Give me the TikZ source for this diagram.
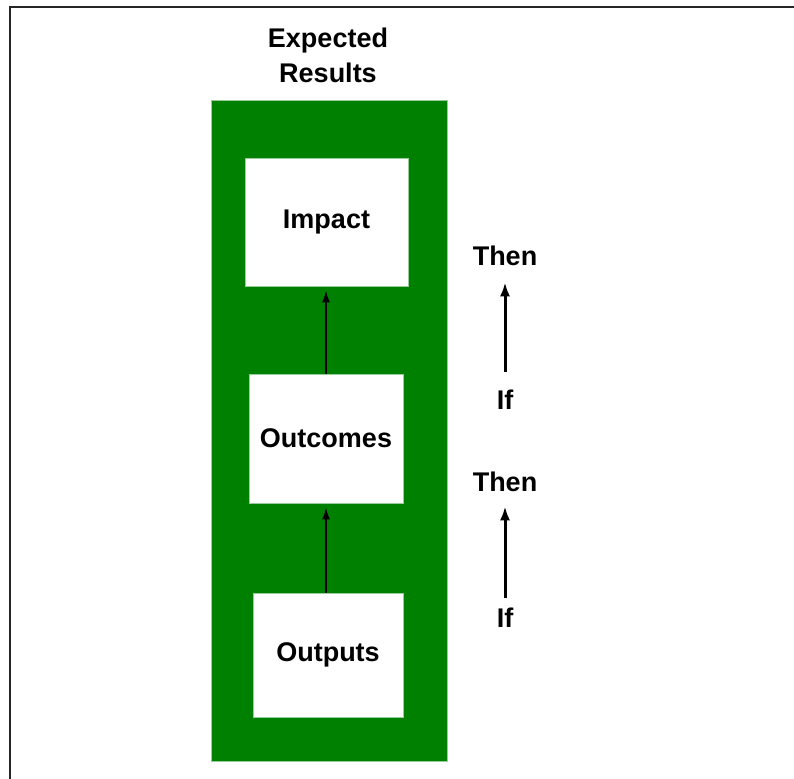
\documentclass[tikz,border=0pt]{standalone}
\usepackage{fontspec}
\usetikzlibrary{arrows.meta}
\setmainfont{Liberation Sans}
\definecolor{resultgreen}{RGB}{0,128,0}

\begin{document}
\begin{tikzpicture}[x=0.5pt,y=-0.5pt,
		every node/.style={font=\fontsize{13.5}{17.5}\selectfont\bfseries, inner sep=0pt},
		stagebox/.style={fill=white, draw=white!60!resultgreen, line width=0.4pt},
		linkarrow/.style={-{Latex[length=6pt,width=4pt]}, line width=1pt, black},
		ifarrow/.style={-{Latex[length=7pt,width=5pt]}, line width=1.5pt, black}]
		\useasboundingbox (0,0) rectangle (794,779);
		\draw [line width=1pt, black!85] (10,779) -- (10,7) -- (794,7);
		\node [align=center] (title) at (328,55) {Expected\\Results};
		\node [fill=resultgreen, draw=white!60!resultgreen, line width=0.4pt, minimum width=118pt, minimum height=330.5pt] (results) at (329,430.5) {};
		\node [stagebox, minimum width=81.5pt, minimum height=64pt] (impact) at (326.5,222) {Impact};
		\node [stagebox, minimum width=77pt, minimum height=64.5pt] (outcomes) at (326,438.5) {Outcomes};
		\node [stagebox, minimum width=75pt, minimum height=62pt] (outputs) at (328,655) {Outputs};
		\draw [linkarrow, shorten >=2pt] (outcomes.north) -- (outcomes.north |- impact.south);
		\draw [linkarrow, shorten >=2pt] (outcomes.south |- outputs.north) -- (outcomes.south);
		\node (then1) at (505,256) {Then};
		\node (if1) at (505,400) {If};
		\node (then2) at (505,482) {Then};
		\node (if2) at (505,618) {If};
		\draw [ifarrow, shorten <=9pt, shorten >=8pt] (if1.north) -- (then1.south);
		\draw [ifarrow, shorten <=5pt, shorten >=7pt] (if2.north) -- (then2.south);
	\end{tikzpicture}
\end{document}
